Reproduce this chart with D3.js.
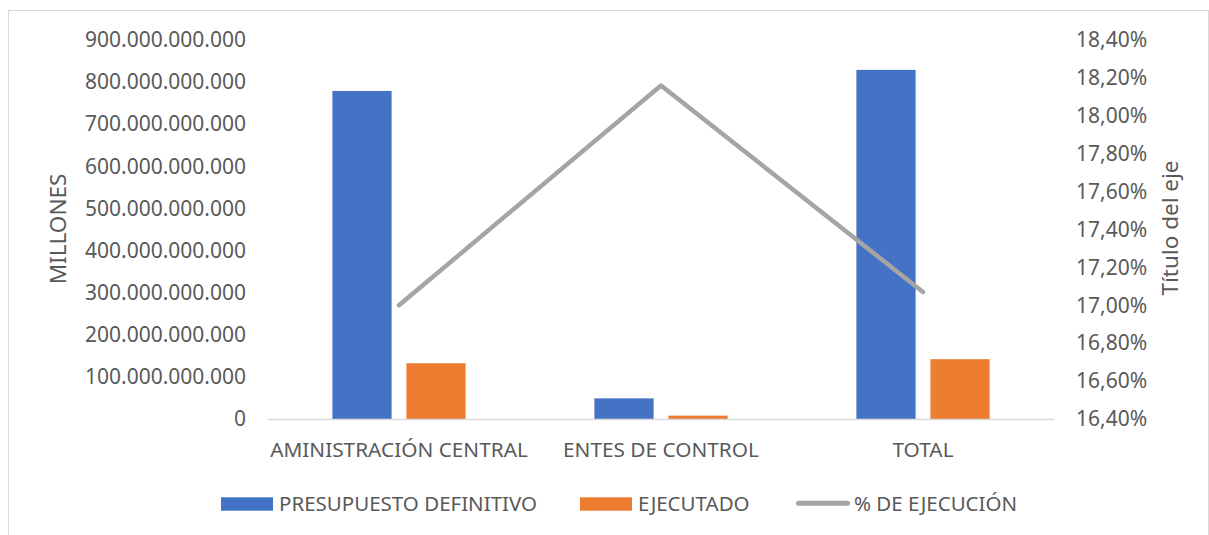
<!DOCTYPE html>
<html>
<head>
<meta charset="utf-8">
<script src="https://cdn.jsdelivr.net/npm/d3@7"></script>
<style>
  body { margin: 0; background: #fff; }
  text { font-family: "Noto Sans", sans-serif; fill: #595959; }
</style>
</head>
<body>
<div id="container"></div>
<script>
const categories = ["AMINISTRACIÓN CENTRAL", "ENTES DE CONTROL", "TOTAL"];
const presupuesto = [779e9, 49e9, 829e9];
const ejecutado = [132.5e9, 8e9, 142e9];
const pctEjecucion = [0.1700, 0.1816, 0.1707];
const leftTicks = [0, 100e9, 200e9, 300e9, 400e9, 500e9, 600e9, 700e9, 800e9, 900e9];
const rightTicks = [0.164, 0.166, 0.168, 0.170, 0.172, 0.174, 0.176, 0.178, 0.180, 0.182, 0.184];
const seriesNames = ["PRESUPUESTO DEFINITIVO", "EJECUTADO", "% DE EJECUCIÓN"];
const colors = ["#4472c4", "#ed7d31", "#a5a5a5"];

const w = 1209;
const h = 535;
const svg = d3.select("#container").append("svg")
  .attr("width", w).attr("height", h);

// chart frame
svg.append("rect")
  .attr("x", 8.5).attr("y", 10.5)
  .attr("width", 1200).attr("height", 540)
  .attr("fill", "none").attr("stroke", "#d9d9d9");

const x0 = d3.scaleBand().domain(categories).range([268, 1054]);
const x1 = d3.scaleBand().domain([0, 1]).range([0, x0.bandwidth()])
  .paddingInner(0.2).paddingOuter(0.87);
const y = d3.scaleLinear().domain([0, 900e9]).range([419, 40]);
const y2 = d3.scaleLinear().domain([0.164, 0.184]).range([419, 40]);

const numFmt = d3.formatLocale({ decimal: ",", thousands: ".", grouping: [3], currency: ["", ""] });
const intFormat = numFmt.format(",.0f");
const pctFormat = numFmt.format(".2%");

// left axis
const yAxis = d3.axisLeft(y).tickValues(leftTicks).tickFormat(intFormat).tickSize(0).tickPadding(0);
const yAxisGroup = svg.append("g")
  .attr("transform", "translate(246, 0)")
  .call(yAxis);
yAxisGroup.select(".domain").remove();
yAxisGroup.selectAll("text").style("font-size", "21px").attr("fill", "#595959")
  .style("font-family", "Noto Sans");

// right axis
const yAxis2 = d3.axisRight(y2).tickValues(rightTicks).tickFormat(pctFormat).tickSize(0).tickPadding(0);
const yAxisGroup2 = svg.append("g")
  .attr("transform", "translate(1076, 0)")
  .call(yAxis2);
yAxisGroup2.select(".domain").remove();
yAxisGroup2.selectAll("text").style("font-size", "21px").attr("fill", "#595959")
  .style("font-family", "Noto Sans");

// bars
const data = [presupuesto, ejecutado];
data.forEach(function (vals, s) {
  svg.selectAll(".bar" + s).data(vals).enter().append("rect")
    .attr("class", "bar" + s)
    .attr("x", (d, i) => x0(categories[i]) + x1(s))
    .attr("width", x1.bandwidth())
    .attr("y", (d) => y(d))
    .attr("height", (d) => y(0) - y(d))
    .attr("fill", colors[s]);
});

// baseline
svg.append("line")
  .attr("x1", 268).attr("x2", 1054)
  .attr("y1", y(0) + 0.5).attr("y2", y(0) + 0.5)
  .attr("stroke", "#d9d9d9").attr("stroke-width", 1.5);

// category labels
svg.selectAll(".cat").data(categories).enter().append("text")
  .attr("class", "cat")
  .attr("x", (d) => x0(d) + x0.bandwidth() / 2)
  .attr("y", 457)
  .attr("text-anchor", "middle")
  .style("font-size", "20.8px")
  .text((d) => d);

// line
const line = d3.line()
  .x((d, i) => x0(categories[i]) + x0.bandwidth() / 2)
  .y((d) => y2(d));
svg.append("path")
  .datum(pctEjecucion)
  .attr("d", line)
  .attr("fill", "none")
  .attr("stroke", colors[2])
  .attr("stroke-width", 4.5)
  .attr("stroke-linecap", "round")
  .attr("stroke-linejoin", "round");

// axis titles
svg.append("text")
  .attr("transform", "translate(66, 229) rotate(-90)")
  .attr("text-anchor", "middle")
  .style("font-size", "22.5px")
  .text("MILLONES");
svg.append("text")
  .attr("transform", "translate(1178, 228) rotate(-90)")
  .attr("text-anchor", "middle")
  .style("font-size", "22.5px")
  .text("Título del eje");

// legend
const legendX = [221, 580, 796];
const legend = svg.selectAll(".legend").data(seriesNames).enter().append("g")
  .attr("class", "legend")
  .attr("transform", (d, i) => "translate(" + legendX[i] + ", 504)");
legend.each(function (d, i) {
  const g = d3.select(this);
  if (i < 2) {
    g.append("rect").attr("x", 0).attr("y", -6.7).attr("width", 52).attr("height", 13.4)
      .attr("fill", colors[i]);
  } else {
    g.append("line").attr("x1", 2.5).attr("x2", 51.5).attr("y1", -0.7).attr("y2", -0.7)
      .attr("stroke", colors[2]).attr("stroke-width", 5).attr("stroke-linecap", "round");
  }
  g.append("text")
    .attr("x", 58)
    .attr("y", 7)
    .style("font-size", "20.5px")
    .text(d);
});
</script>
</body>
</html>
